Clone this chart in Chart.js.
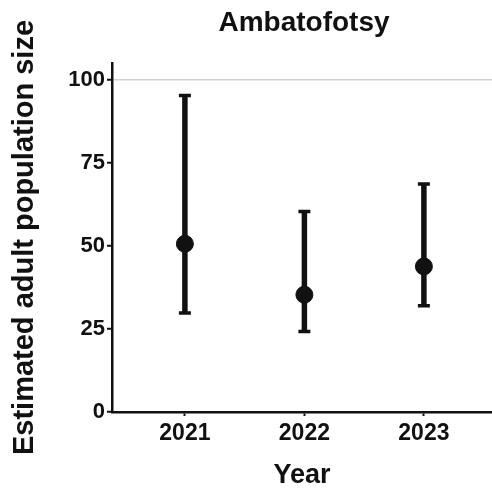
<!DOCTYPE html>
<html>
<head>
<meta charset="utf-8">
<script src="https://cdn.jsdelivr.net/npm/chart.js@4/dist/chart.umd.min.js"></script>
<style>
  html, body { margin: 0; padding: 0; background: #fff; overflow: hidden; }
  #wrap { width: 492px; height: 489px; }
</style>
</head>
<body>
<div id="wrap"><canvas id="c" width="492" height="489"></canvas></div>
<script>
// Population estimates for Ambatofotsy with confidence limits
const years = [2021, 2022, 2023];
const estimates = [50.6, 35.3, 43.8];
const lowerBounds = [29.8, 24.2, 32.0];
const upperBounds = [95.2, 60.3, 68.6];
const yTicks = [0, 25, 50, 75, 100];
const siteName = 'Ambatofotsy';

const FONT = "'Liberation Sans', Arial, sans-serif";

// Vertical whiskers with caps, drawn beneath the points
const errorBars = {
  id: 'errorBars',
  beforeDatasetsDraw(chart) {
    const { ctx, scales: { x, y } } = chart;
    ctx.save();
    ctx.strokeStyle = '#111';
    years.forEach((yr, i) => {
      const px = x.getPixelForValue(yr);
      const top = y.getPixelForValue(upperBounds[i]);
      const bot = y.getPixelForValue(lowerBounds[i]);
      ctx.lineWidth = 5.5;
      ctx.beginPath();
      ctx.moveTo(px, top);
      ctx.lineTo(px, bot);
      ctx.stroke();
      ctx.lineWidth = 3.5;
      ctx.beginPath();
      ctx.moveTo(px - 6, top);
      ctx.lineTo(px + 6, top);
      ctx.moveTo(px - 6, bot);
      ctx.lineTo(px + 6, bot);
      ctx.stroke();
    });
    ctx.restore();
  }
};

// Title centred over the plotting panel
const panelTitle = {
  id: 'panelTitle',
  afterDraw(chart) {
    const { ctx, chartArea } = chart;
    ctx.save();
    ctx.fillStyle = '#111';
    ctx.font = `bold 28px ${FONT}`;
    ctx.textAlign = 'center';
    ctx.textBaseline = 'middle';
    ctx.fillText(siteName, (chartArea.left + chartArea.right) / 2 + 2, 23);
    ctx.restore();
  }
};

new Chart(document.getElementById('c'), {
  type: 'scatter',
  data: {
    datasets: [{
      data: years.map((yr, i) => ({ x: yr, y: estimates[i] })),
      backgroundColor: '#111',
      borderColor: '#111',
      pointRadius: 8.5,
      pointHoverRadius: 8.5
    }]
  },
  options: {
    responsive: false,
    animation: false,
    layout: { autoPadding: false, padding: { top: 63, right: 0, left: 0, bottom: 0 } },
    plugins: { legend: { display: false }, tooltip: { enabled: false } },
    scales: {
      x: {
        type: 'linear',
        min: 2020.39,
        max: 2023.57,
        afterBuildTicks(axis) { axis.ticks = years.map(v => ({ value: v })); },
        afterFit(axis) { axis.height = 77; axis.paddingRight = 0; axis.paddingLeft = 0; },
        border: { color: '#111', width: 2.5 },
        grid: { drawOnChartArea: false, tickLength: 4, tickColor: '#111', tickWidth: 2 },
        ticks: {
          color: '#111',
          padding: 4,
          maxRotation: 0,
          font: { family: FONT, size: 23, weight: 'bold' },
          callback: v => String(v)
        },
        title: {
          display: true,
          text: 'Year',
          color: '#111',
          font: { family: FONT, size: 27, weight: 'bold', lineHeight: 1 },
          padding: { top: 0, bottom: 0 }
        }
      },
      y: {
        min: 0,
        max: 105,
        afterBuildTicks(axis) { axis.ticks = yTicks.map(v => ({ value: v })); },
        afterFit(axis) { axis.width = 112; },
        border: { color: '#111', width: 2.5 },
        grid: {
          color: ctx => (ctx.tick && ctx.tick.value === 100) ? 'rgba(0,0,0,0.18)' : 'rgba(0,0,0,0)',
          lineWidth: 1.5,
          tickLength: 5,
          tickColor: '#111',
          tickWidth: 2
        },
        ticks: {
          color: '#111',
          padding: 2,
          font: { family: FONT, size: 22, weight: 'bold' }
        },
        title: {
          display: true,
          text: 'Estimated adult population size',
          color: '#111',
          font: { family: FONT, size: 29, weight: 'bold', lineHeight: 1 },
          padding: { top: 10, bottom: 0 }
        }
      }
    }
  },
  plugins: [errorBars, panelTitle]
});
</script>
</body>
</html>
